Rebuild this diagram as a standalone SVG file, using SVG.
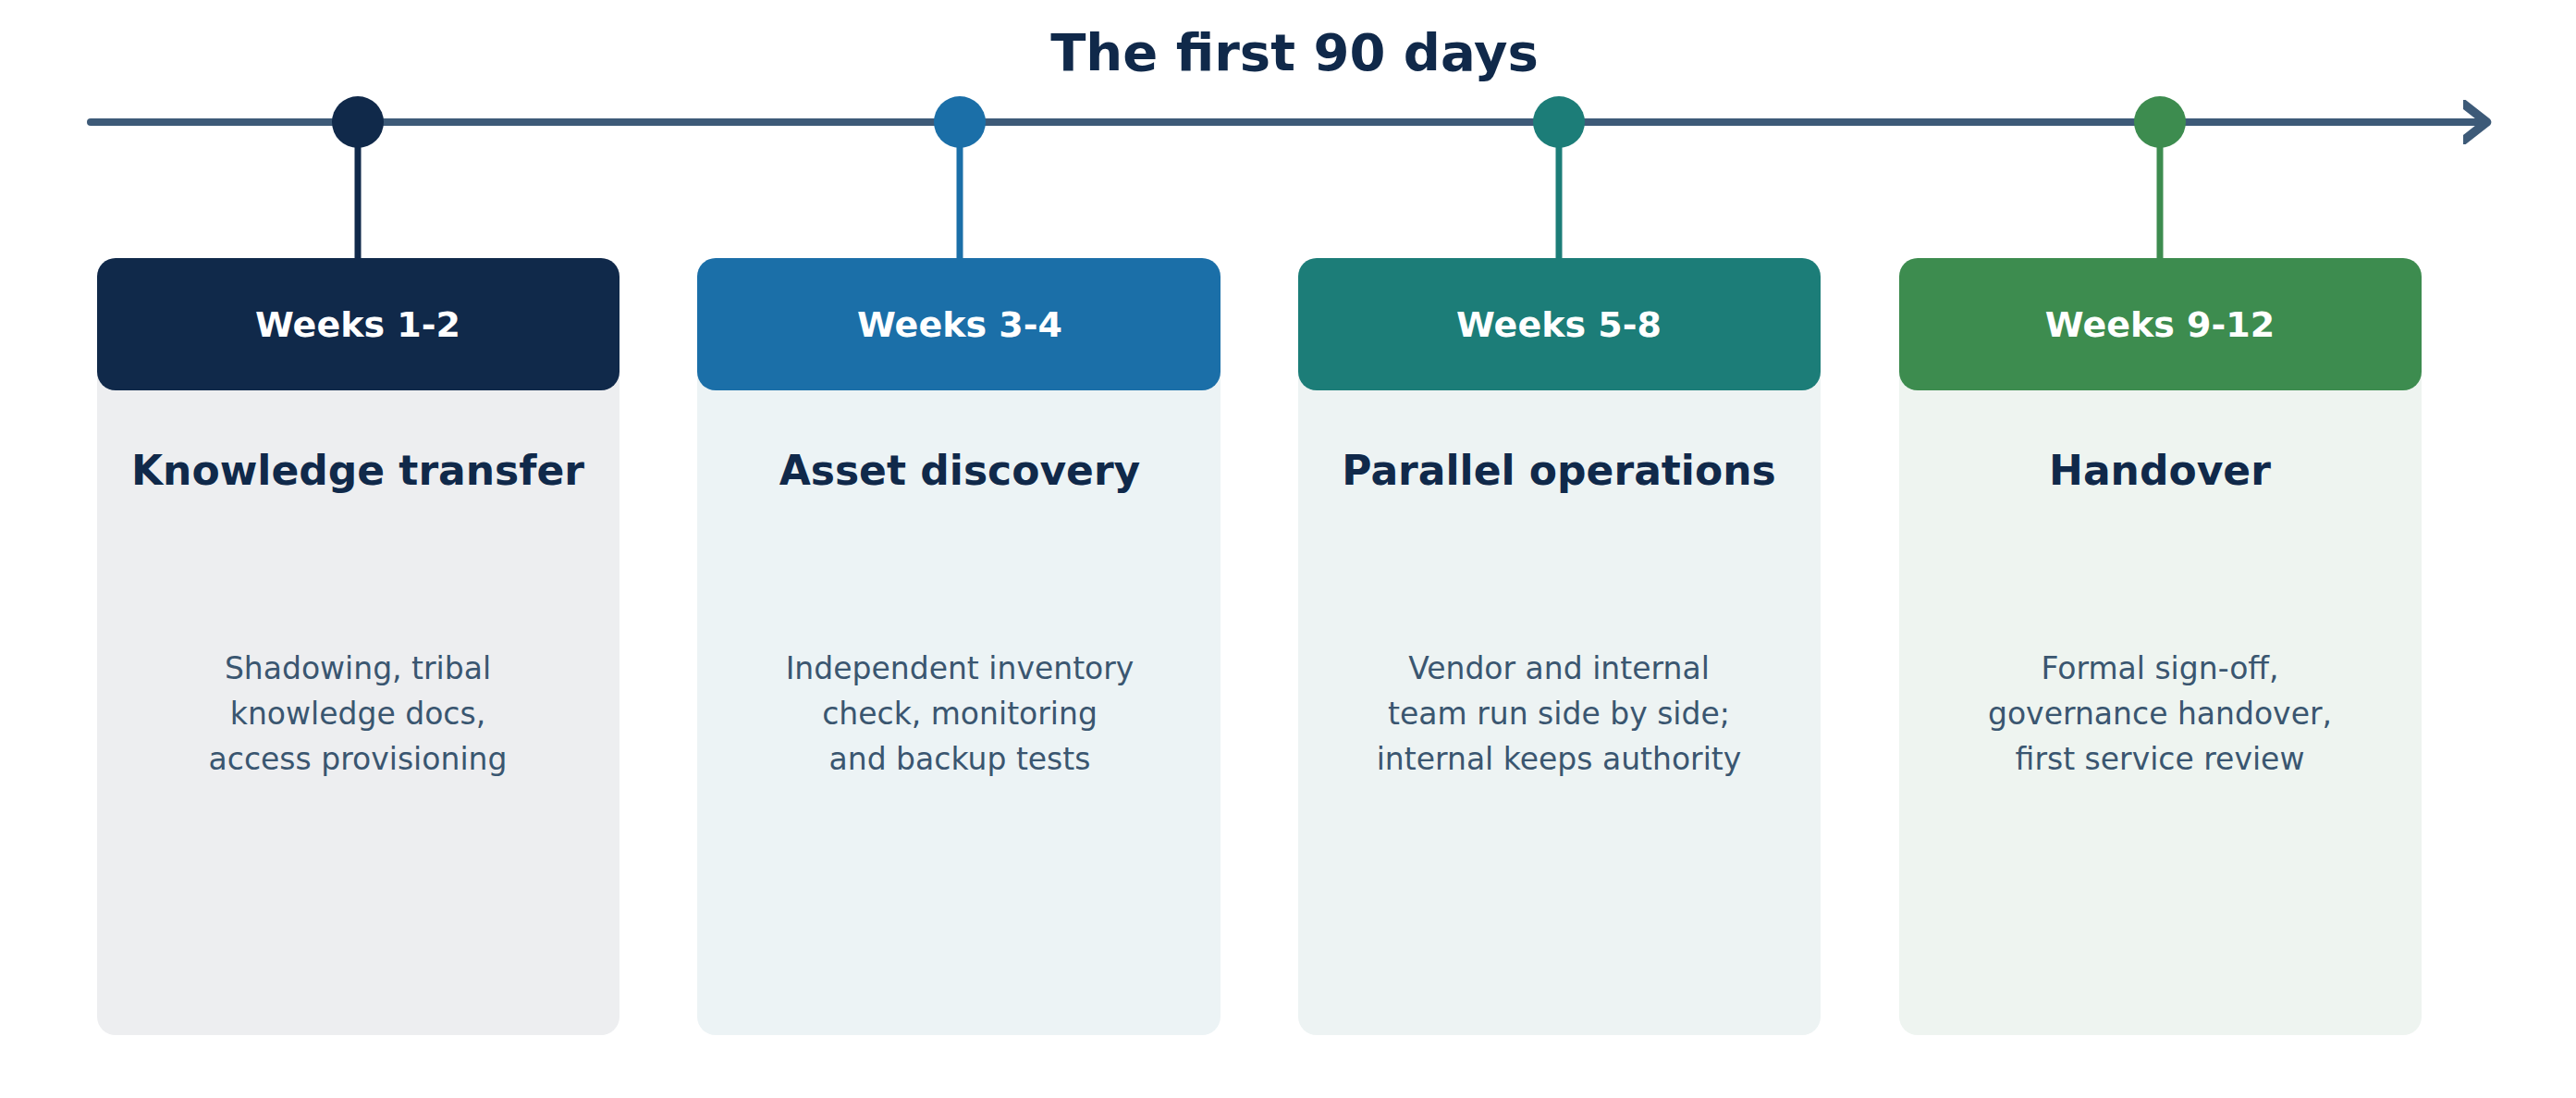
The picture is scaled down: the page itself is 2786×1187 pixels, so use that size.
<svg xmlns="http://www.w3.org/2000/svg" width="2786" height="1187" viewBox="0 0 2786 1187">
<style>
text{font-family:"DejaVu Sans","Noto Sans",sans-serif;text-anchor:middle}
.t{font-size:56px;font-weight:bold;fill:#10294a}
.h{font-size:38px;font-weight:bold;fill:#fff}
.n{font-size:44px;font-weight:bold;fill:#10294a}
.b{font-size:33px;fill:#3a5670}
</style>
<defs><marker id="ah" markerWidth="6" markerHeight="6" refX="3" refY="3" orient="auto" markerUnits="strokeWidth"><path d="M0,0.5 L3.2,3 L0,5.5" fill="none" stroke="#3d5a78" stroke-width="1.2" stroke-linecap="round" stroke-linejoin="round"/></marker></defs>
<rect width="2786" height="1187" fill="#fff"/>
<text class="t" x="1400" y="76">The first 90 days</text>
<g id="connectors">
<line x1="98" y1="132" x2="2688" y2="132" stroke="#3d5a78" stroke-width="8" stroke-linecap="round" marker-end="url(#ah)"/>
<line x1="387" y1="132" x2="387" y2="280" stroke="#10294a" stroke-width="7"/>
<line x1="1038" y1="132" x2="1038" y2="280" stroke="#1b6fa8" stroke-width="7"/>
<line x1="1686" y1="132" x2="1686" y2="280" stroke="#1c7d78" stroke-width="7"/>
<line x1="2336" y1="132" x2="2336" y2="280" stroke="#3d8c4f" stroke-width="7"/>
<circle cx="387" cy="132" r="28" fill="#10294a"/>
<circle cx="1038" cy="132" r="28" fill="#1b6fa8"/>
<circle cx="1686" cy="132" r="28" fill="#1c7d78"/>
<circle cx="2336" cy="132" r="28" fill="#3d8c4f"/>
</g>
<g id="n1">
<rect x="105" y="279" width="565" height="840" rx="20" fill="#edeef0"/>
<rect x="105" y="279" width="565" height="143" rx="20" fill="#10294a"/>
<text class="h" x="387" y="364">Weeks 1-2</text>
<text class="n" x="387" y="524">Knowledge transfer</text>
<text class="b" x="387" y="734">Shadowing, tribal</text>
<text class="b" x="387" y="783">knowledge docs,</text>
<text class="b" x="387" y="832">access provisioning</text>
</g>
<g id="n2">
<rect x="754" y="279" width="566" height="840" rx="20" fill="#ecf3f5"/>
<rect x="754" y="279" width="566" height="143" rx="20" fill="#1b6fa8"/>
<text class="h" x="1038" y="364">Weeks 3-4</text>
<text class="n" x="1038" y="524">Asset discovery</text>
<text class="b" x="1038" y="734">Independent inventory</text>
<text class="b" x="1038" y="783">check, monitoring</text>
<text class="b" x="1038" y="832">and backup tests</text>
</g>
<g id="n3">
<rect x="1404" y="279" width="565" height="840" rx="20" fill="#edf3f3"/>
<rect x="1404" y="279" width="565" height="143" rx="20" fill="#1c7d78"/>
<text class="h" x="1686" y="364">Weeks 5-8</text>
<text class="n" x="1686" y="524">Parallel operations</text>
<text class="b" x="1686" y="734">Vendor and internal</text>
<text class="b" x="1686" y="783">team run side by side;</text>
<text class="b" x="1686" y="832">internal keeps authority</text>
</g>
<g id="n4">
<rect x="2054" y="279" width="565" height="840" rx="20" fill="#eef4f0"/>
<rect x="2054" y="279" width="565" height="143" rx="20" fill="#3d8c4f"/>
<text class="h" x="2336" y="364">Weeks 9-12</text>
<text class="n" x="2336" y="524">Handover</text>
<text class="b" x="2336" y="734">Formal sign-off,</text>
<text class="b" x="2336" y="783">governance handover,</text>
<text class="b" x="2336" y="832">first service review</text>
</g>
</svg>
